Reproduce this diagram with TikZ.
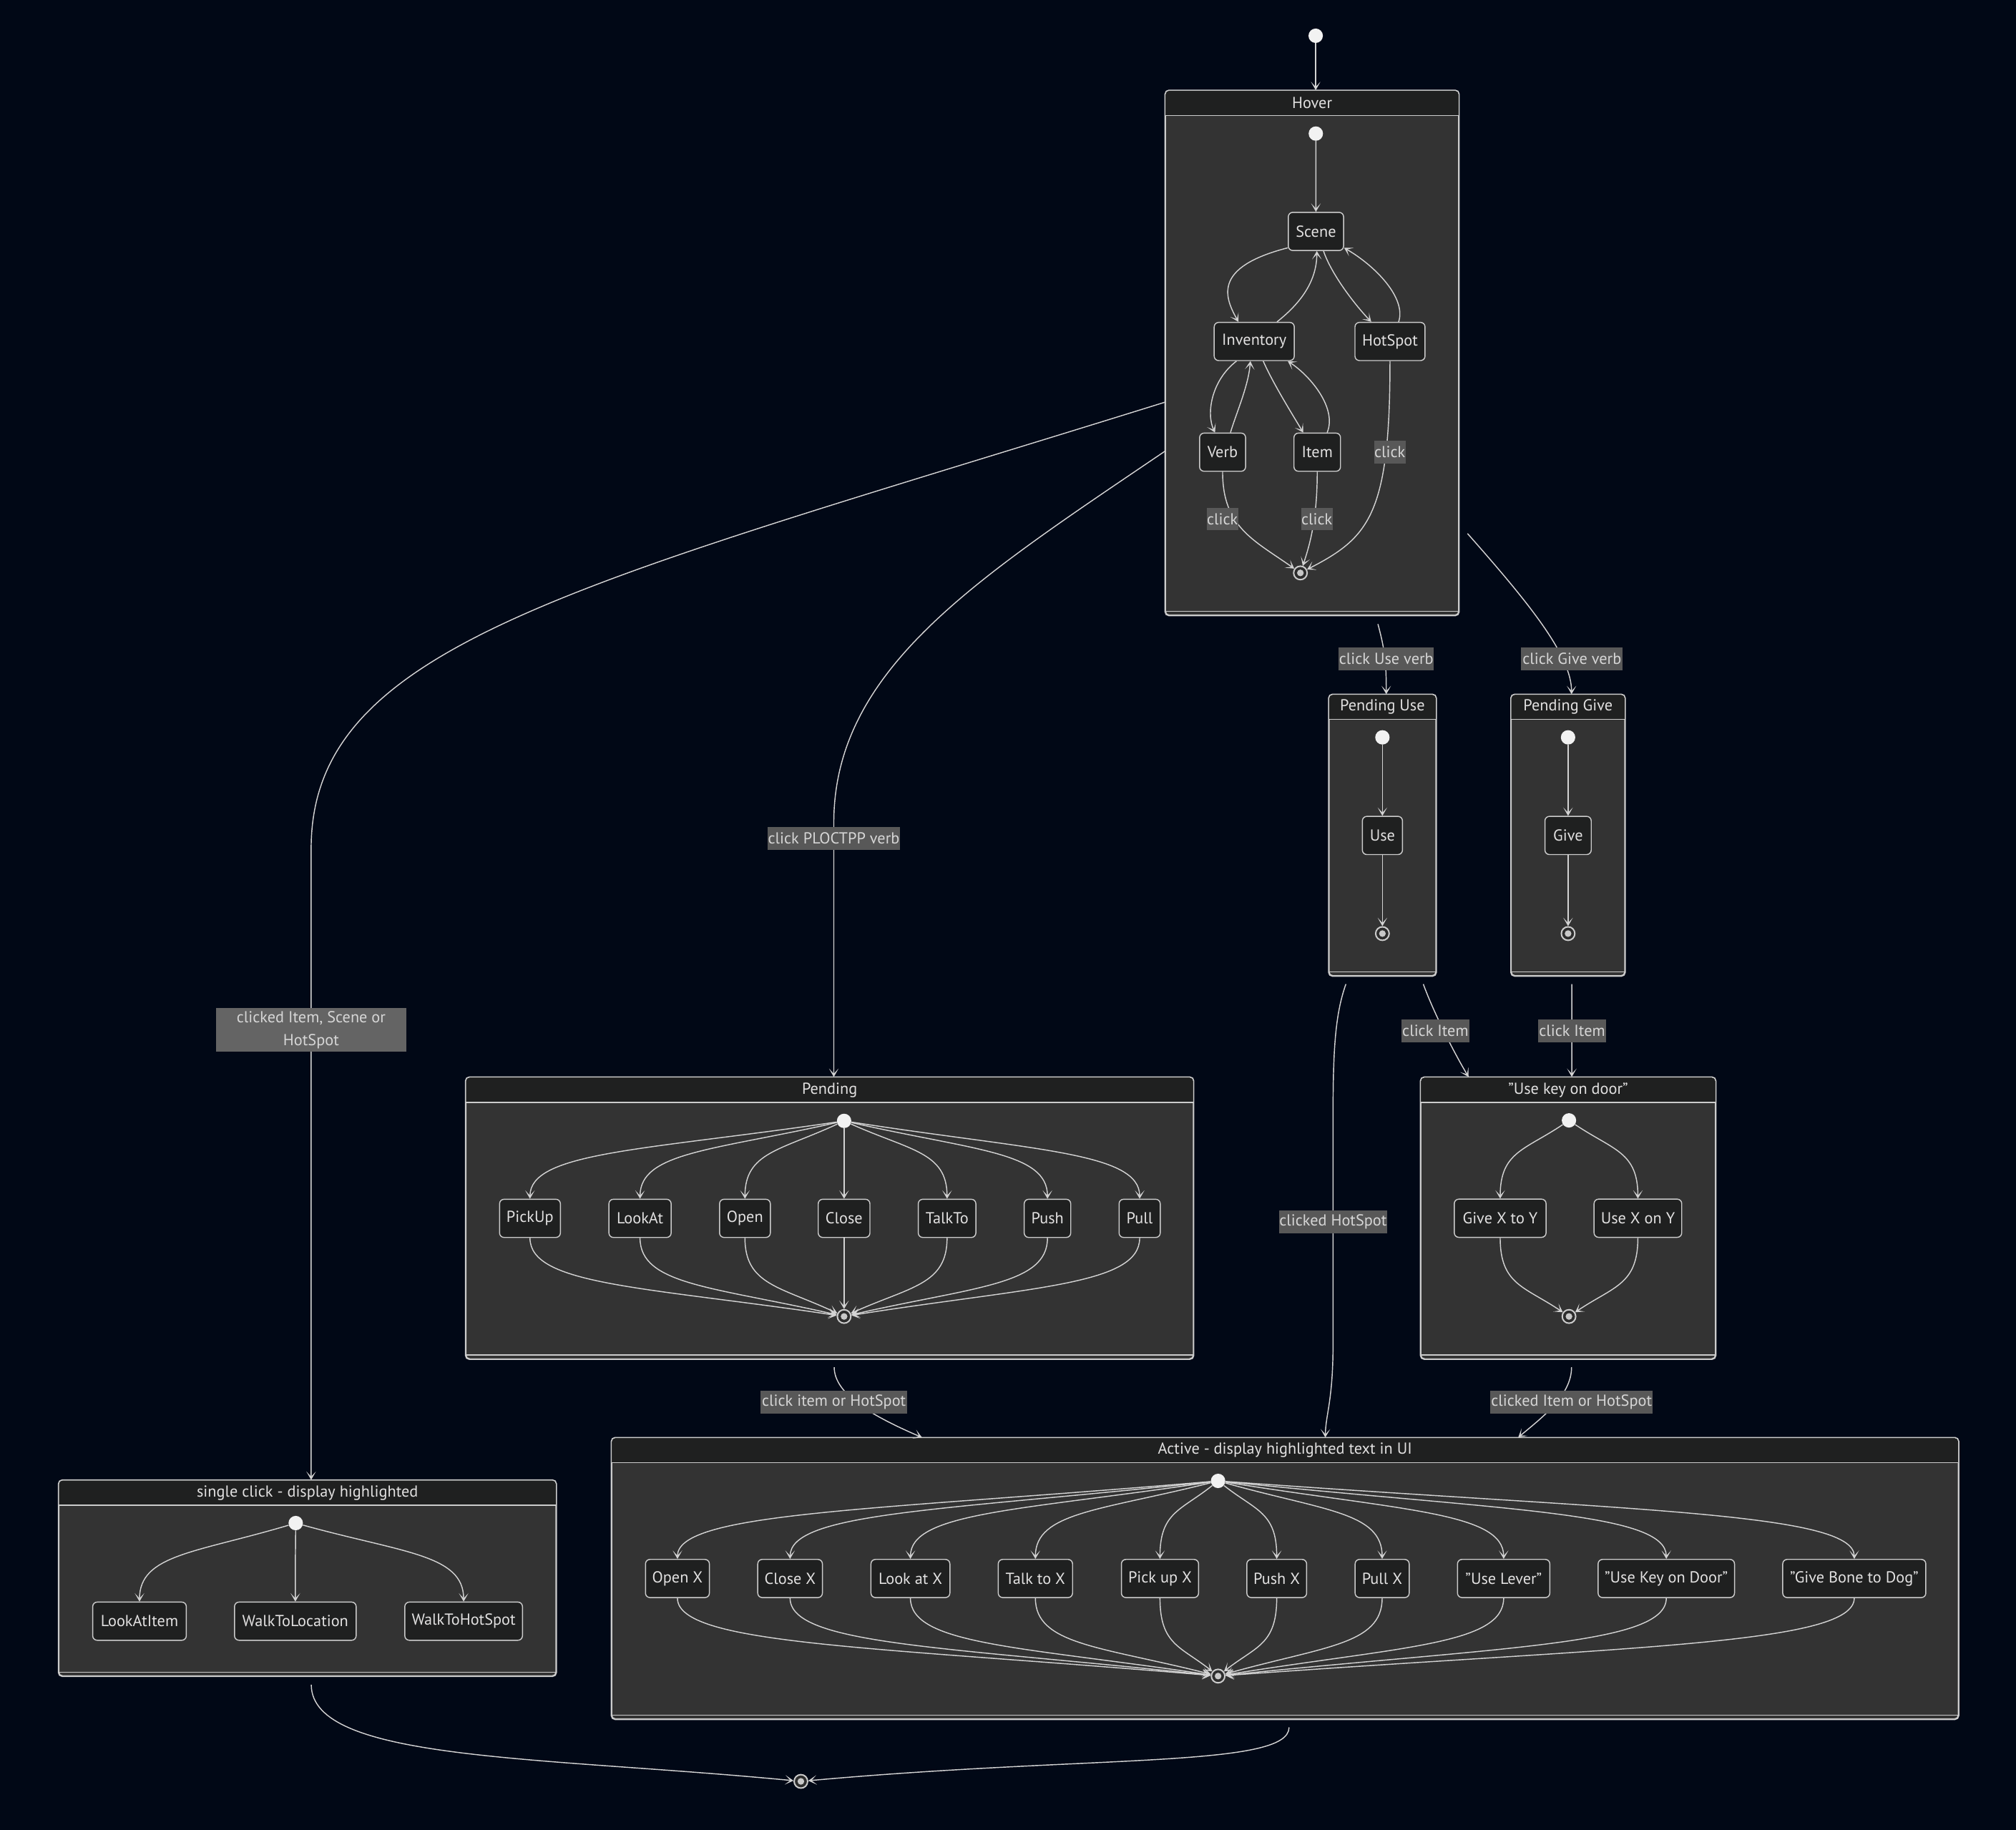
\documentclass[tikz,border=0pt]{standalone}
\usepackage{fontspec}
\setmainfont{PT Sans}
\usetikzlibrary{arrows.meta,calc}
\definecolor{bgc}{RGB}{1,8,22}
\definecolor{clfill}{RGB}{51,51,51}
\definecolor{hdfill}{RGB}{31,32,32}
\definecolor{bordc}{RGB}{204,204,204}
\definecolor{linec}{RGB}{211,211,211}
\definecolor{txtc}{RGB}{226,225,225}
\definecolor{lblbg}{RGB}{88,88,88}
\definecolor{lblbgb}{RGB}{100,100,100}
\definecolor{lbltxt}{RGB}{214,214,214}
\definecolor{startc}{RGB}{242,242,242}
\definecolor{endfill}{RGB}{45,45,45}
\definecolor{enddot}{RGB}{200,200,200}
\newcommand\dfont{\fontsize{12.4pt}{14pt}\selectfont}
\tikzset{
 stbox/.style={draw=bordc, fill=hdfill, rounded corners=3.5pt, line width=0.8pt, minimum height=29.7pt, inner sep=0pt, text=txtc, font=\dfont},
 stinit/.style={circle, fill=startc, minimum size=11.2pt, inner sep=0pt},
 stfinal/.style={circle, draw=bordc, fill=endfill, line width=1.1pt, minimum size=10.5pt, inner sep=0pt,
   path picture={\fill[enddot] (path picture bounding box.center) circle (2.6pt);}},
 conn/.style={draw=linec, line width=0.8pt, -{Stealth[length=6.5pt,width=7.4pt,inset=4pt]}},
 lbl/.style={fill=lblbg, text=lbltxt, inner sep=0pt, minimum height=17.6pt, font=\dfont},
 clbox/.style={draw=bordc, fill=clfill, rounded corners=3pt, line width=0.8pt, inner sep=0pt},
}
% name, x1, y1, x2, y2, header bottom y, title
\newcommand\clusterbox[7]{%
 \node[clbox, minimum width={(#4-#2)*1pt}, minimum height={(#5-#3)*1pt}] (#1) at ({(#2+#4)/2},{(#3+#5)/2}) {};
 \begin{scope}
  \clip (#2,#3) rectangle (#4,#6);
  \fill[hdfill, rounded corners=3pt] (#2,#3) rectangle (#4,#5);
 \end{scope}
 \draw[bordc, line width=0.8pt, rounded corners=3pt] (#1.north west) rectangle (#1.south east);
 \draw[bordc, line width=0.8pt] (#2,#6) -- (#4,#6);
 \draw[bordc, line width=0.8pt] (#2,{#5-3}) -- (#4,{#5-3});
 \node[text=txtc, font=\dfont, inner sep=0pt] (#1-title) at ({(#2+#4)/2},{(#3+#6)/2}) {#7};
}
\newcommand\fanout[2]{%
 \draw[conn] let \p1=(#1), \p2=(#2) in (#1) .. controls ({\x1+0.64*(\x2-\x1)},{\y1+0.38*(\y2-\y1)}) and (\x2,{\y2+0.6*(\y1-\y2)}) .. (#2);}
\newcommand\fanin[2]{%
 \draw[conn] let \p1=(#1), \p2=(#2) in (#1) .. controls (\x1,{\y1+0.6*(\y2-\y1)}) and ({\x2-0.64*(\x2-\x1)},{\y2-0.38*(\y2-\y1)}) .. (#2);}
\begin{document}
\begin{tikzpicture}[x=1pt,y=-1pt]
\fill[bgc] (0,0) rectangle (1568,1423.3);
\useasboundingbox (0,0) rectangle (1568,1423.3);

% ---------- clusters ----------
\clusterbox{hover}{906.5}{70.5}{1134.5}{478.5}{90}{Hover}
\clusterbox{pu}{1033.7}{540.3}{1116.8}{758.9}{559.4}{Pending Use}
\clusterbox{pg}{1175.4}{540.3}{1263.7}{758.9}{559.4}{Pending Give}
\clusterbox{pend}{362.4}{838}{928.1}{1056.9}{857.5}{Pending}
\clusterbox{uk}{1105.1}{838}{1334.2}{1056.9}{857.5}{"Use key on door"}
\clusterbox{single}{45.8}{1151.4}{432.4}{1303.5}{1170.8}{single click - display highlighted}
\clusterbox{act}{475.8}{1118.4}{1523.1}{1337}{1137.5}{Active - display highlighted text in UI}

% ---------- top / hover ----------
\node[stinit] (tstart) at (1023.3,27.8) {};
\node[stinit] (hstart) at (1023.4,103.9) {};
\node[stbox, minimum width=43pt] (scene) at (1023.5,180) {Scene};
\node[stbox, minimum width=62.3pt] (inv) at (975.5,265.6) {Inventory};
\node[stbox, minimum width=54.5pt] (hot) at (1081.1,265.6) {HotSpot};
\node[stbox, minimum width=35.8pt] (verb) at (950.9,351.7) {Verb};
\node[stbox, minimum width=36.2pt] (item) at (1024.5,351.7) {Item};
\node[stfinal] (hend) at (1011.4,445.6) {};

\draw[conn] (tstart) -- ([xshift=2.8pt]hover.north);
\draw[conn] (hstart) -- (scene);
\draw[conn] ([yshift=2.5pt]scene.south west) .. controls (942,208) and (953,232) .. ([xshift=-12.3pt]inv.north);
\draw[conn] ([xshift=17.7pt]inv.north) .. controls (1010,237) and (1024.2,220) .. ([xshift=0.7pt]scene.south);
\draw[conn] ([xshift=5.9pt]scene.south) .. controls (1035,212) and (1052,235) .. ([xshift=-14.6pt]hot.north);
\draw[conn] ([xshift=6.7pt]hot.north) .. controls (1094,232) and (1070,207) .. ([yshift=2.5pt]scene.south east);
\draw[conn] ([xshift=-13.8pt]inv.south) .. controls (942,296) and (938,322) .. ([xshift=-5.9pt]verb.north);
\draw[conn] ([xshift=6.1pt]verb.north) .. controls (962,320) and (971,300) .. ([xshift=-3pt]inv.south);
\draw[conn] ([xshift=7pt]inv.south) .. controls (990,298) and (1005,322) .. ([xshift=-10.9pt]item.north);
\draw[conn] ([xshift=7.7pt]item.north) .. controls (1040,318) and (1020,293) .. ([xshift=26.1pt]inv.south);
\draw[conn] (hot.south) .. controls (1081.1,400) and (1065,418) .. (hend);
\draw[conn] (verb.south) .. controls (950.9,410) and (975,420) .. (hend);
\draw[conn] (item.south) .. controls (1024.5,400) and (1020,420) .. (hend);
\node[lbl, minimum width=24.3pt] (lhot) at (1081,351.5) {click};
\node[lbl, minimum width=24.3pt] (lverb) at (950.8,403.6) {click};
\node[lbl, minimum width=24.3pt] (litem) at (1024.2,403.6) {click};

% ---------- pending use / give ----------
\node[stinit] (pustart) at (1075.2,573.5) {};
\node[stbox, minimum width=31.2pt] (use) at (1075.2,649.8) {Use};
\node[stfinal] (puend) at (1075.2,726.1) {};
\draw[conn] (pustart) -- (use);
\draw[conn] (use) -- (puend);
\node[stinit] (pgstart) at (1219.6,573.5) {};
\node[stbox, minimum width=36pt] (give) at (1219.6,649.8) {Give};
\node[stfinal] (pgend) at (1219.6,726.1) {};
\draw[conn] (pgstart) -- (give);
\draw[conn] (give) -- (pgend);

% ---------- pending ----------
\node[stinit] (pstart) at (656.5,871.8) {};
\node[stbox, minimum width=47.3pt] (pickup) at (412.2,947.6) {PickUp};
\node[stbox, minimum width=48.4pt] (lookat) at (497.8,947.6) {LookAt};
\node[stbox, minimum width=39.5pt] (open) at (579.4,947.6) {Open};
\node[stbox, minimum width=40.2pt] (close) at (656.5,947.6) {Close};
\node[stbox, minimum width=44.8pt] (talkto) at (736.6,947.6) {TalkTo};
\node[stbox, minimum width=36.2pt] (push) at (814.7,947.6) {Push};
\node[stbox, minimum width=32pt] (pull) at (886.4,947.6) {Pull};
\node[stfinal] (pendend) at (656.5,1023.9) {};
\foreach \q in {pickup,lookat,open,close,talkto,push,pull} {\fanout{pstart}{\q.north}\fanin{\q.south}{pendend}}

% ---------- use key on door ----------
\node[stinit] (ukstart) at (1220.3,871.4) {};
\node[stbox, minimum width=71.4pt] (givexy) at (1166.8,947.5) {Give X to Y};
\node[stbox, minimum width=68.2pt] (usexy) at (1273.9,947.5) {Use X on Y};
\node[stfinal] (ukend) at (1220.3,1023.9) {};
\foreach \q in {givexy,usexy} {\fanout{ukstart}{\q.north}\fanin{\q.south}{ukend}}

% ---------- single click ----------
\node[stinit] (sstart) at (230,1184.6) {};
\node[stbox, minimum width=72.8pt] (lookitem) at (108.5,1260.9) {LookAtItem};
\node[stbox, minimum width=94.6pt] (walkloc) at (229.7,1260.9) {WalkToLocation};
\node[stbox, minimum width=91.5pt] (walkhot) at (360.6,1260.9) {WalkToHotSpot};
\foreach \q in {lookitem,walkloc,walkhot} {\fanout{sstart}{\q.north}}

% ---------- active ----------
\node[stinit] (astart) at (947.4,1151.8) {};
\node[stbox, minimum width=49.7pt] (openx) at (526.9,1227.7) {Open X};
\node[stbox, minimum width=50.3pt] (closex) at (614.5,1227.7) {Close X};
\node[stbox, minimum width=61.4pt] (lookx) at (708.1,1227.7) {Look at X};
\node[stbox, minimum width=57.8pt] (talkx) at (805.3,1227.7) {Talk to X};
\node[stbox, minimum width=60pt] (pickx) at (902.2,1227.7) {Pick up X};
\node[stbox, minimum width=46.5pt] (pushx) at (993,1227.7) {Push X};
\node[stbox, minimum width=42.1pt] (pullx) at (1075,1227.7) {Pull X};
\node[stbox, minimum width=71.8pt] (uselever) at (1169.5,1227.7) {"Use Lever"};
\node[stbox, minimum width=106.1pt] (usekeydoor) at (1296,1227.7) {"Use Key on Door"};
\node[stbox, minimum width=111.3pt] (givebone) at (1442.2,1227.7) {"Give Bone to Dog"};
\node[stfinal] (aend) at (947.4,1303.6) {};
\foreach \q in {openx,closex,lookx,talkx,pickx,pushx,pullx,uselever,usekeydoor,givebone} {\fanout{astart}{\q.north}\fanin{\q.south}{aend}}

\node[stfinal] (fend) at (622.9,1385.5) {};

% ---------- edges between clusters ----------
\draw[conn] ([xshift=51.2pt,yshift=-6.5pt]hover.south) .. controls (1077,505) and (1078.2,515) .. ([xshift=2.95pt]pu.north);
\draw[conn] ([xshift=6.5pt,yshift=-140.5pt]hover.east) .. controls (1190,470) and (1222.3,510) .. ([xshift=2.75pt]pg.north);
\draw[conn] ([yshift=-38.3pt]hover.west) .. controls (450,455) and (242,500) .. (242,660) -- ([xshift=2.9pt]single.north);
\draw[conn] ([yshift=-76.4pt]hover.west) .. controls (760,450) and (648.5,520) .. (648.5,640) -- ([xshift=3.25pt]pend.north);
\draw[conn] ([xshift=3.55pt,yshift=-6.1pt]pend.south) .. controls (649,1085) and (680,1102) .. ([xshift=-282.35pt]act.north);
\draw[conn] ([xshift=2.65pt,yshift=-6.1pt]uk.south) .. controls (1222.3,1085) and (1200,1102) .. ([xshift=181.35pt]act.north);
\draw[conn] ([xshift=-28.45pt,yshift=-6.1pt]pu.south) .. controls (1038,790) and (1036.8,820) .. (1036.8,870) -- (1036.8,1045) .. controls (1036.8,1090) and (1031,1100) .. ([xshift=31.35pt]act.north);
\draw[conn] ([xshift=31.75pt,yshift=-6.1pt]pu.south) .. controls (1113,782) and (1127,812) .. ([xshift=-77.45pt]uk.north);
\draw[conn] ([xshift=2.95pt,yshift=-6.1pt]pg.south) -- ([xshift=2.85pt]uk.north);
\draw[conn] ([xshift=3pt,yshift=-6.4pt]single.south) .. controls (242.1,1370) and (420,1366) .. (fend);
\draw[conn] ([xshift=3.15pt,yshift=-6.1pt]act.south) .. controls (1002.6,1375) and (850,1365) .. (fend);

% ---------- edge labels ----------
\node[lbl, minimum width=74.2pt] (lusev) at (1078.2,512.4) {click Use verb};
\node[lbl, minimum width=79.2pt] (lgivev) at (1222.6,512.4) {click Give verb};
\node[lbl, minimum width=103pt] (lploc) at (648.5,652) {click PLOCTPP verb};
\node[lbl, fill=lblbgb, minimum width=148pt, minimum height=34pt, align=center, font=\fontsize{12.4pt}{18pt}\selectfont] (lclick) at (242,801) {clicked Item, Scene or\\HotSpot};
\node[lbl, minimum width=52.7pt] (lpuitem) at (1116.4,801.8) {click Item};
\node[lbl, minimum width=52.7pt] (lpgitem) at (1222.7,801.8) {click Item};
\node[lbl, minimum width=83.8pt] (lhs) at (1036.8,950.5) {clicked HotSpot};
\node[lbl, minimum width=114pt] (lpend) at (648.6,1090.5) {click item or HotSpot};
\node[lbl, minimum width=126.4pt] (luk) at (1222.3,1090.5) {clicked Item or HotSpot};
\end{tikzpicture}
\end{document}
